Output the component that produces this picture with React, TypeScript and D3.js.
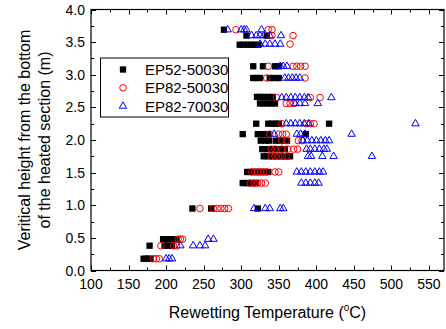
import React from "react";
import * as d3 from "d3";

// Rows: [height (m), temperatures (°C)]
const ep52Rows: [number, number[]][] = [
  [0.18, [170, 173, 176, 179]],
  [0.38, [178, 198, 203, 208]],
  [0.48, [196, 200, 205, 210, 214]],
  [0.95, [235, 260, 322]],
  [1.34, [302, 306, 310, 315, 320]],
  [1.51, [308, 312, 318, 322, 326, 330, 336]],
  [1.75, [330, 336, 342, 348, 354, 360, 365]],
  [1.86, [328, 334, 340, 346, 352, 358]],
  [1.99, [326, 332, 337, 346, 351, 356, 361]],
  [2.09, [302, 322, 326, 331, 336, 386]],
  [2.25, [320, 336, 341, 346, 350, 417]],
  [2.56, [325, 330, 335, 340, 345]],
  [2.66, [321, 325, 330, 336, 342]],
  [2.95, [316, 320, 325, 338, 344, 350]],
  [3.13, [316, 329, 345, 350]],
  [3.46, [298, 303, 308, 313, 318, 323]],
  [3.6, [307, 334]],
  [3.69, [277]],
];

const ep82aRows: [number, number[]][] = [
  [0.18, [183, 187, 191]],
  [0.38, [193, 210, 214]],
  [0.48, [216, 219, 222]],
  [0.95, [245, 263, 268, 273, 278, 283]],
  [1.34, [312, 317, 322, 327, 332]],
  [1.51, [314, 318, 322, 326, 330, 334, 345, 350]],
  [1.75, [340, 345, 350, 355, 360]],
  [1.86, [340, 345, 354, 362, 370, 375]],
  [1.99, [354, 360, 376, 381]],
  [2.09, [338, 350, 355, 360]],
  [2.25, [354, 387, 392, 397]],
  [2.56, [360, 365, 370]],
  [2.65, [347, 392, 405]],
  [2.95, [334, 385]],
  [3.13, [336, 369, 374, 379, 385]],
  [3.47, [365]],
  [3.6, [341, 369]],
  [3.69, [293, 336, 341]],
];

const ep82bRows: [number, number[]][] = [
  [0.18, [200, 204, 208]],
  [0.38, [219, 236, 245, 252]],
  [0.48, [256, 263]],
  [0.95, [317, 332, 338, 352, 356]],
  [1.34, [380, 386, 392, 398, 403]],
  [1.51, [374, 380, 386, 392, 398, 404, 409]],
  [1.75, [389, 393, 408, 423, 474]],
  [1.86, [387, 392, 398, 404, 410, 414]],
  [1.99, [382, 388, 394, 400, 406, 412, 417]],
  [2.09, [344, 374, 379, 385, 447]],
  [2.25, [360, 366, 372, 378, 384, 390, 532]],
  [2.56, [372, 378, 385, 402]],
  [2.65, [354, 360, 366, 372, 378, 384, 389, 420]],
  [2.95, [358, 363, 368, 373, 378]],
  [3.13, [352, 356, 361]],
  [3.47, [325, 332, 338, 345, 352]],
  [3.6, [314, 320, 325, 330, 338, 353]],
  [3.69, [282, 300, 304, 307, 327]],
];

const seriesNames = ["EP52-50030", "EP82-50030", "EP82-70030"];
const xTicks = [100, 150, 200, 250, 300, 350, 400, 450, 500, 550];
const yTicks = [0, 0.5, 1.0, 1.5, 2.0, 2.5, 3.0, 3.5, 4.0];

const W = 446;
const H = 329;
const left = 91;
const right = 444;
const top = 9.5;
const bottom = 270.5;
const FONT = "'Liberation Sans', Arial, sans-serif";

const x = d3.scaleLinear().domain([100, 570]).range([left, right]);
const y = d3.scaleLinear().domain([0, 4]).range([bottom, top]);

const sq = d3.symbol(d3.symbolSquare, 40)() as string;
const tri = d3.symbol(d3.symbolTriangle, 24)() as string;

function flatten(rows: [number, number[]][]) {
  const pts: { t: number; h: number }[] = [];
  rows.forEach(([h, ts]) => ts.forEach((t) => pts.push({ t, h })));
  return pts;
}

function Marker({ kind, cx, cy }: { kind: number; cx: number; cy: number }) {
  if (kind === 0)
    return <path d={sq} transform={`translate(${cx},${cy})`} fill="#000" />;
  if (kind === 1)
    return <circle cx={cx} cy={cy} r={3.3} fill="none" stroke="#ff0000" strokeWidth={1} />;
  return (
    <path
      d={tri}
      transform={`translate(${cx},${cy})`}
      fill="none"
      stroke="#0000ff"
      strokeWidth={1}
    />
  );
}

export default function App() {
  const xMinor = d3.range(100, 571, 25);
  const yMinor = d3.range(0, 4.001, 0.25);
  const all = [flatten(ep52Rows), flatten(ep82aRows), flatten(ep82bRows)];
  return (
    <svg
      width={W}
      height={H}
      style={{ position: "absolute", left: 0, top: 0, background: "#fff" }}
      fontFamily={FONT}
    >
      <rect x={0} y={0} width={W} height={H} fill="#fff" />
      {/* ticks */}
      <g stroke="#000" strokeWidth={1}>
        {xMinor.map((v) => {
          const major = v % 50 === 0;
          const len = major ? 5 : 3;
          const px = Math.round(x(v)) + 0.5;
          return (
            <g key={"xt" + v}>
              <line x1={px} x2={px} y1={bottom} y2={bottom - len} />
              <line x1={px} x2={px} y1={top} y2={top + len} />
            </g>
          );
        })}
        {yMinor.map((v) => {
          const major = Math.abs(v * 2 - Math.round(v * 2)) < 1e-6;
          const len = major ? 5 : 3;
          const py = Math.round(y(v)) + 0.5;
          return (
            <g key={"yt" + v}>
              <line x1={left} x2={left + len} y1={py} y2={py} />
              <line x1={right} x2={right - len} y1={py} y2={py} />
            </g>
          );
        })}
      </g>
      {/* data */}
      {all.map((pts, k) => (
        <g key={"s" + k}>
          {pts.map((p, i) => (
            <Marker key={i} kind={k} cx={x(p.t)} cy={y(p.h)} />
          ))}
        </g>
      ))}
      {/* frame */}
      <rect
        x={left}
        y={top}
        width={right - left}
        height={bottom - top}
        fill="none"
        stroke="#000"
        strokeWidth={1.2}
      />
      {/* tick labels */}
      {xTicks.map((v) => (
        <text key={"xl" + v} x={x(v)} y={289} fontSize={14} textAnchor="middle" fill="#000">
          {v}
        </text>
      ))}
      {yTicks.map((v) => (
        <text key={"yl" + v} x={85} y={y(v) + 5} fontSize={14} textAnchor="end" fill="#000">
          {v.toFixed(1)}
        </text>
      ))}
      {/* axis titles */}
      <text x={(left + right) / 2} y={318} fontSize={16} textAnchor="middle" fill="#000">
        Rewetting Temperature (<tspan fontSize={10} dy={-7}>o</tspan>
        <tspan dy={7}>C)</tspan>
      </text>
      <g transform={`translate(30, ${(top + bottom) / 2}) rotate(-90)`}>
        <text x={0} y={0} fontSize={16} textAnchor="middle" fill="#000">
          Veritical height from the bottom
        </text>
        <text x={0} y={20} fontSize={16} textAnchor="middle" fill="#000">
          of the heated section (m)
        </text>
      </g>
      {/* legend */}
      <rect x={100.5} y={58} width={128} height={59} fill="#fff" stroke="#000" strokeWidth={1} />
      {seriesNames.map((name, k) => {
        const ly = 69.5 + k * 18.3;
        return (
          <g key={name}>
            <Marker kind={k} cx={123} cy={ly} />
            <text x={145} y={ly + 5.5} fontSize={15} fill="#000">
              {name}
            </text>
          </g>
        );
      })}
    </svg>
  );
}
